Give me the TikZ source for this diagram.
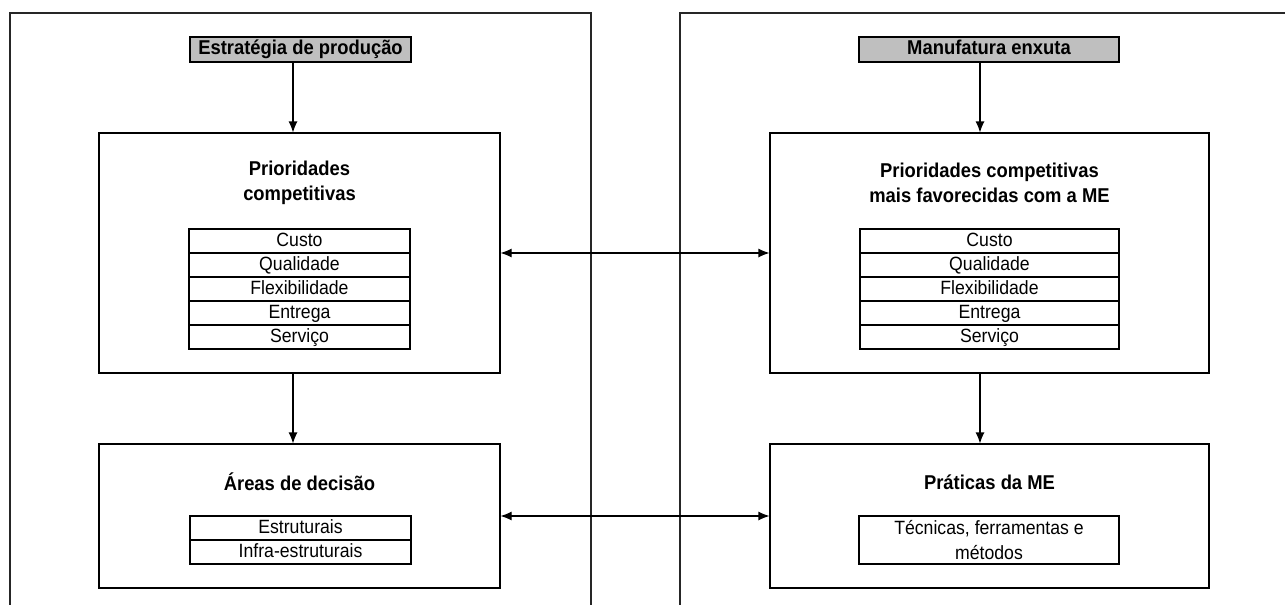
\documentclass[tikz,border=0pt]{standalone}
\usepackage{fontspec}
\setmainfont{Liberation Sans}[FakeStretch=0.92]
\usetikzlibrary{arrows.meta}
\begin{document}
\begin{tikzpicture}[x=1pt,y=-1pt,
  panel/.style={draw=black!85, line width=1.1pt},
  hdr/.style={draw=black, fill=black!25, line width=1.1pt, minimum height=25pt, inner sep=0pt,
    text height=14pt, text depth=4pt,
    font=\bfseries\fontsize{20}{25}\selectfont},
  bigbox/.style={draw=black, line width=1.1pt, inner sep=0pt},
  title/.style={align=center, inner sep=0pt, font=\bfseries\fontsize{20}{25}\selectfont},
  cell/.style={draw=black, line width=1.1pt, minimum height=24pt, inner sep=0pt,
    text height=14pt, text depth=4pt,
    font=\fontsize{19.2}{24}\selectfont},
  arr/.style={-{Latex[length=11pt,width=9pt]}, line width=1.1pt},
  biarr/.style={{Latex[length=11pt,width=9pt]}-{Latex[length=11pt,width=9pt]}, line width=1.1pt}
]
\useasboundingbox[fill=white] (0,0) rectangle (1285,605);

% the two open panels
\coordinate (pLb) at (10,605);  \coordinate (pLt) at (10,13);
\coordinate (pRt) at (591,13);  \coordinate (pRb) at (591,605);
\draw[panel] (pLb) -- (pLt) -- (pRt) -- (pRb);
\coordinate (qLb) at (680,605); \coordinate (qLt) at (680,13);
\coordinate (qRt) at (1285,13);
\draw[panel] (qLb) -- (qLt) -- (qRt);

% left column: production strategy
\node[hdr, minimum width=221pt] (hdrL) at (300.5,49.5) {Estratégia de produção};
\node[bigbox, minimum width=401pt, minimum height=240pt] (prioL) at (299.5,253) {};
\node[title] (tPrioL) at (299.5,182.5) {Prioridades\\competitivas};
\node[cell, minimum width=221pt] (cL1) at (299.5,241) {Custo};
\node[cell, minimum width=221pt] (cL2) at (299.5,265) {Qualidade};
\node[cell, minimum width=221pt] (cL3) at (299.5,289) {Flexibilidade};
\node[cell, minimum width=221pt] (cL4) at (299.5,313) {Entrega};
\node[cell, minimum width=221pt] (cL5) at (299.5,337) {Serviço};

\node[bigbox, minimum width=401pt, minimum height=144pt] (areasL) at (299.5,516) {};
\node[title] (tAreasL) at (299.5,482) {Áreas de decisão};
\node[cell, minimum width=221pt] (dL1) at (300.5,528) {Estruturais};
\node[cell, minimum width=221pt] (dL2) at (300.5,552) {Infra-estruturais};

% right column: lean manufacturing
\node[hdr, minimum width=260pt] (hdrR) at (989,49.5) {Manufatura enxuta};
\node[bigbox, minimum width=439pt, minimum height=240pt] (prioR) at (989.5,253) {};
\node[title] (tPrioR) at (989.5,182.5) {Prioridades competitivas\\mais favorecidas com a ME};
\node[cell, minimum width=259pt] (cR1) at (989.5,241) {Custo};
\node[cell, minimum width=259pt] (cR2) at (989.5,265) {Qualidade};
\node[cell, minimum width=259pt] (cR3) at (989.5,289) {Flexibilidade};
\node[cell, minimum width=259pt] (cR4) at (989.5,313) {Entrega};
\node[cell, minimum width=259pt] (cR5) at (989.5,337) {Serviço};

\node[bigbox, minimum width=439pt, minimum height=144pt] (pratR) at (989.5,516) {};
\node[title] (tPratR) at (989.5,482) {Práticas da ME};
\node[draw=black, line width=1.1pt, minimum width=260pt, minimum height=48pt, inner sep=0pt,
  align=center, font=\fontsize{19.2}{25}\selectfont] (tecR) at (989,540)
  {Técnicas, ferramentas e\\métodos};

% connectors
\draw[arr] ([xshift=-7.5pt]hdrL.south) -- ([xshift=-6.5pt]prioL.north);
\draw[arr] ([xshift=-6.5pt]prioL.south) -- ([xshift=-6.5pt]areasL.north);
\draw[arr] ([xshift=-9pt]hdrR.south) -- ([xshift=-9.5pt]prioR.north);
\draw[arr] ([xshift=-9.5pt]prioR.south) -- ([xshift=-9.5pt]pratR.north);
\draw[biarr] (prioL.east) -- (prioR.west);
\draw[biarr] (areasL.east) -- (pratR.west);
\end{tikzpicture}
\end{document}
